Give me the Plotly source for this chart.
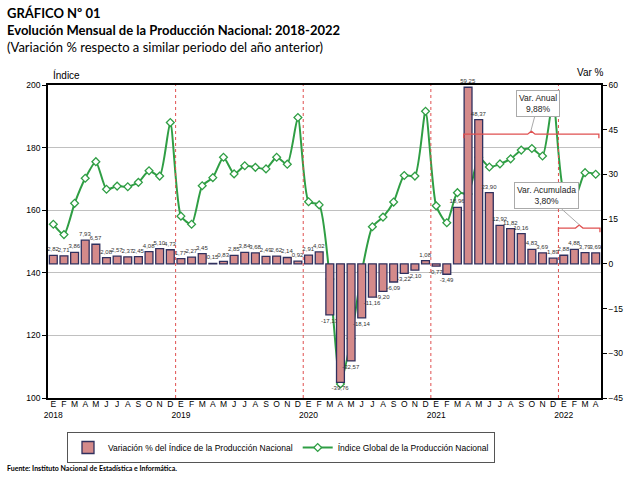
import plotly.graph_objects as go

# ---------------- data ----------------
years = [2018, 2019, 2020, 2021, 2022]
month_letters = ["E", "F", "M", "A", "M", "J", "J", "A", "S", "O", "N", "D"]

variacion = [
    2.82, 2.71, 3.86, 7.93, 6.57, 2.08, 2.57, 2.37, 2.45, 4.08, 5.10, 4.73,
    1.77, 2.27, 3.45, 0.15, 0.83, 2.85, 3.84, 3.68, 2.49, 2.62, 2.14, 0.92,
    2.91, 4.02, -17.13, -39.76, -32.57, -18.14, -11.16, -9.20, -6.09, -3.22, -2.10, 1.08,
    -0.77, -3.49, 18.96, 59.25, 48.37, 23.90, 12.92, 11.82, 10.16, 4.83, 3.69, 1.89,
    2.88, 4.88, 3.79, 3.69,
]

indice = [
    155.5, 152.2, 162.2, 170.2, 175.5, 166.7, 167.7, 167.5, 168.9, 172.6, 170.9, 188.0,
    158.1, 155.5, 167.8, 170.4, 176.9, 171.6, 174.2, 173.7, 173.2, 176.9, 174.7, 189.6,
    162.7, 161.7, 138.0, 104.5, 119.0, 140.3, 154.7, 157.8, 162.6, 171.1, 170.9, 191.6,
    161.4, 156.0, 165.6, 165.2, 176.9, 173.8, 174.8, 176.4, 179.2, 179.7, 177.3, 195.2,
    166.0, 163.6, 172.0, 171.5,
]

n = len(variacion)
xpos = list(range(n))
ticktext = []
for i in xpos:
    m = month_letters[i % 12]
    ticktext.append(f"{m}<br>{years[i // 12]}" if i % 12 == 0 else m)

var_anual_text = "Var. Anual<br>9,88%"
var_acum_text = "Var. Acumulada<br>3,80%"

# ---------------- figure ----------------
W, H = 640, 480
ML, MR, MT, MB = 48, 39, 85, 82
PW, PH = W - ML - MR, H - MT - MB


def px(xp):
    return (xp - ML) / PW


def py(yp):
    return (H - MB - yp) / PH


NARROW = "Liberation Sans Narrow, Arial Narrow, Liberation Sans, Arial, sans-serif"
GREEN = "#2F9E44"
RED = "#E05050"

fig = go.Figure()
fig.add_trace(go.Bar(
    x=xpos, y=variacion, yaxis="y2",
    name="Variación % del Índice de la Producción Nacional",
    marker=dict(color="#D48A8A", line=dict(color="#30305E", width=1.3)),
    width=0.74,
    texttemplate="%{y:.2f}", textposition="outside", constraintext="none",
    textfont=dict(size=6, color="#333333", family=NARROW),
    cliponaxis=False,
))
fig.add_trace(go.Scatter(
    x=xpos, y=indice, yaxis="y",
    name="Índice Global de la Producción Nacional",
    mode="lines+markers",
    line=dict(color=GREEN, width=2, shape="spline", smoothing=0.6),
    marker=dict(symbol="diamond", size=6, color="white", line=dict(color=GREEN, width=1.3)),
))

shapes = []
# year separators (dotted red) at each January boundary
for i in xpos:
    if i % 12 == 0 and i > 0:
        shapes.append(dict(type="line", xref="x", yref="paper", x0=i - 0.5, x1=i - 0.5,
                           y0=0, y1=1, line=dict(color=RED, width=1, dash="dot")))


def bracket(x0, x1, y):
    xm = (x0 + x1) / 2
    return dict(type="path", xref="x", yref="y2",
                path=f"M {x0},{y-1.4} L {x0},{y} L {xm-0.35},{y} L {xm},{y+1} "
                     f"L {xm+0.35},{y} L {x1},{y} L {x1},{y-1.4}",
                line=dict(color=RED, width=1.3))


shapes.append(bracket(38.6, 51.3, 43.5))
shapes.append(bracket(47.5, 51.4, 12))

annotations = [
    dict(text="<b>GRÁFICO Nº 01</b>", xref="paper", yref="paper", x=px(5), y=py(13),
         xanchor="left", yanchor="middle", showarrow=False,
         font=dict(family="Lato", size=13, color="black")),
    dict(text="<b>Evolución Mensual de la Producción Nacional: 2018-2022</b>", xref="paper", yref="paper",
         x=px(5), y=py(30), xanchor="left", yanchor="middle", showarrow=False,
         font=dict(family="Lato", size=13, color="black")),
    dict(text="(Variación % respecto a similar periodo del año anterior)", xref="paper", yref="paper",
         x=px(5), y=py(47), xanchor="left", yanchor="middle", showarrow=False,
         font=dict(family="Lato", size=13, color="black")),
    dict(text="Índice", xref="paper", yref="paper", x=px(51), y=py(75),
         xanchor="left", yanchor="middle", showarrow=False,
         font=dict(family=NARROW, size=10, color="black")),
    dict(text="Var %", xref="paper", yref="paper", x=px(606), y=py(73),
         xanchor="right", yanchor="middle", showarrow=False,
         font=dict(family=NARROW, size=10, color="black")),
    dict(text="<b>Fuente: Instituto Nacional de Estadística e Informática.</b>", xref="paper", yref="paper",
         x=px(5), y=py(468), xanchor="left", yanchor="middle", showarrow=False,
         font=dict(family="Lato", size=7, color="black")),
    dict(text=var_anual_text, xref="x", yref="y2", x=44.9, y=44.5,
         ax=538, ay=104, axref="pixel", ayref="pixel",
         showarrow=True, arrowhead=0, arrowcolor="#AAAAAA", arrowwidth=1,
         bgcolor="white", bordercolor="#AAAAAA", borderwidth=1, borderpad=2,
         font=dict(family=NARROW, size=8.5, color="#222222")),
    dict(text=var_acum_text, xref="x", yref="y2", x=49.5, y=13,
         ax=547, ay=196, axref="pixel", ayref="pixel",
         showarrow=True, arrowhead=0, arrowcolor="#AAAAAA", arrowwidth=1,
         bgcolor="white", bordercolor="#AAAAAA", borderwidth=1, borderpad=2,
         font=dict(family=NARROW, size=8.5, color="#222222")),
]

# convert callout box positions (pixels) to offsets relative to the bracket targets
for a in annotations:
    if a.get("axref") == "pixel":
        xt = ML + (a["x"] + 0.5) / n * PW
        yt = MT + (60 - a["y"]) / 105 * PH
        a["ax"] = a["ax"] - xt
        a["ay"] = a["ay"] - yt
        a.pop("axref")
        a.pop("ayref")

fig.update_layout(
    width=W, height=H,
    margin=dict(l=ML, r=MR, t=MT, b=MB),
    paper_bgcolor="white", plot_bgcolor="white",
    separators=",.",
    showlegend=True,
    legend=dict(orientation="h", x=px(67), y=py(432), xanchor="left", yanchor="top",
                bordercolor="#555555", borderwidth=1,
                font=dict(family=NARROW, size=8.5, color="black"),
                itemwidth=30, tracegroupgap=0),
    xaxis=dict(range=[-0.5, n - 0.5], tickmode="array", tickvals=xpos, ticktext=ticktext,
               tickangle=0, showgrid=False, showline=True, linecolor="black", linewidth=1.5,
               mirror=True, ticks="", tickfont=dict(family=NARROW, size=8.5, color="black"),
               ticklabelstandoff=-3, zeroline=False),
    yaxis=dict(range=[100, 200], dtick=20, showgrid=True, gridcolor="#C0C0C0", gridwidth=1,
               showline=True, linecolor="black", linewidth=1.5, ticks="outside", ticklen=4,
               tickcolor="black", tickfont=dict(family=NARROW, size=8.5, color="black"),
               zeroline=False),
    yaxis2=dict(range=[-45, 60], dtick=15, overlaying="y", side="right", showgrid=False,
                showline=True, linecolor="black", linewidth=1.5, ticks="outside", ticklen=4,
                tickcolor="black", tickfont=dict(family=NARROW, size=8.5, color="black"),
                zeroline=False),
    shapes=shapes,
    annotations=annotations,
    bargap=0.25,
)

fig.write_html("out.html", config={"displayModeBar": False},
               post_script="document.body.style.margin='0';")
